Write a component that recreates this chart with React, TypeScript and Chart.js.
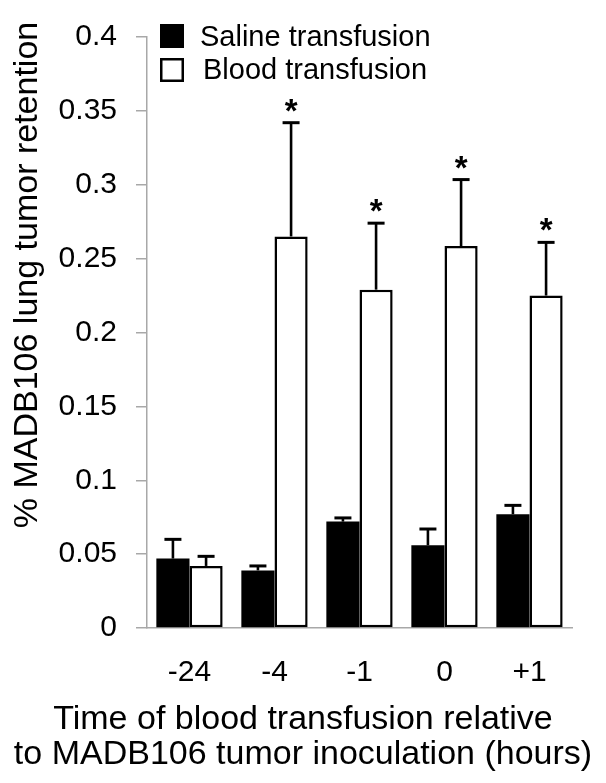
import React, { useEffect, useRef } from 'react';
import { Chart, registerables } from 'chart.js';

Chart.register(...registerables);

const categories = ['-24', '-4', '-1', '0', '+1'];
const salineValues = [0.047, 0.039, 0.072, 0.056, 0.077];
const salineErrors = [0.013, 0.003, 0.0025, 0.011, 0.006];
const bloodValues = [0.042, 0.265, 0.229, 0.2585, 0.225];
const bloodErrors = [0.0065, 0.077, 0.045, 0.045, 0.036];
const significant = [false, true, true, true, true];
const yTickLabels = ['0', '0.05', '0.1', '0.15', '0.2', '0.25', '0.3', '0.35', '0.4'];
const seriesNames = ['Saline transfusion', 'Blood transfusion'];
const yTitle = '% MADB106 lung tumor retention';
const xTitleLines = ['Time of blood transfusion relative', 'to MADB106 tumor inoculation (hours)'];

const FONT = '"Liberation Sans", Arial, Helvetica, sans-serif';

const errorPlugin = {
  id: 'errorBars',
  afterDatasetsDraw(chart: any) {
    const ctx = chart.ctx;
    const y = chart.scales.y;
    const errs = [salineErrors, bloodErrors];
    errs.forEach((list, di) => {
      const meta = chart.getDatasetMeta(di);
      meta.data.forEach((bar: any, i: number) => {
        const v = chart.data.datasets[di].data[i] as number;
        const top = y.getPixelForValue(v + list[i]);
        const x = bar.x;
        ctx.save();
        ctx.strokeStyle = '#000';
        ctx.lineWidth = 2.6;
        ctx.beginPath();
        ctx.moveTo(x, bar.y);
        ctx.lineTo(x, top);
        ctx.stroke();
        ctx.lineWidth = 3;
        ctx.beginPath();
        ctx.moveTo(x - 8.5, top);
        ctx.lineTo(x + 8.5, top);
        ctx.stroke();
        if (di === 1 && significant[i]) {
          ctx.fillStyle = '#000';
          ctx.font = `bold 33px ${FONT}`;
          ctx.textAlign = 'center';
          ctx.textBaseline = 'alphabetic';
          ctx.fillText('*', x, top - 1);
        }
        ctx.restore();
      });
    });
  },
};

const decorPlugin = {
  id: 'decor',
  afterDraw(chart: any) {
    const ctx = chart.ctx;
    const area = chart.chartArea;
    ctx.save();
    // legend
    const lx = area.left + 13;
    const sq = 24;
    const rows = [area.top - 13, area.top + 21];
    ctx.fillStyle = '#000';
    ctx.fillRect(lx, rows[0], sq, sq);
    ctx.fillRect(lx, rows[1], sq, sq);
    ctx.fillStyle = '#fff';
    ctx.fillRect(lx + 2.5, rows[1] + 2.5, sq - 5, sq - 5);
    ctx.fillStyle = '#000';
    ctx.font = `29px ${FONT}`;
    ctx.textAlign = 'left';
    ctx.textBaseline = 'alphabetic';
    ctx.fillText(seriesNames[0], lx + 40, rows[0] + 21.5);
    ctx.fillText(seriesNames[1], lx + 43, rows[1] + 21);
    // y title
    ctx.save();
    ctx.translate(37, 275);
    ctx.rotate(-Math.PI / 2);
    ctx.font = `34px ${FONT}`;
    ctx.textAlign = 'center';
    ctx.textBaseline = 'alphabetic';
    ctx.fillText(yTitle, 0, 0);
    ctx.restore();
    // x title
    ctx.font = `34px ${FONT}`;
    ctx.textAlign = 'center';
    ctx.textBaseline = 'alphabetic';
    ctx.fillText(xTitleLines[0], chart.width / 2, 729);
    ctx.fillText(xTitleLines[1], chart.width / 2, 764);
    ctx.restore();
  },
};

export default function App() {
  const ref = useRef<HTMLCanvasElement | null>(null);
  useEffect(() => {
    if (!ref.current) return;
    Chart.defaults.font.family = FONT;
    Chart.defaults.color = '#000';
    const chart = new Chart(ref.current, {
      type: 'bar',
      data: {
        labels: categories,
        datasets: [
          {
            label: seriesNames[0],
            data: salineValues,
            backgroundColor: '#000',
            borderColor: '#000',
            borderWidth: 0,
            categoryPercentage: 0.78,
            barPercentage: 1.0,
          },
          {
            label: seriesNames[1],
            data: bloodValues,
            backgroundColor: '#fff',
            borderColor: '#000',
            borderWidth: 2.5,
            borderSkipped: false,
            categoryPercentage: 0.78,
            barPercentage: 1.0,
          },
        ],
      },
      options: {
        responsive: false,
        animation: false,
        devicePixelRatio: 1,
        layout: { padding: { top: 31, right: 34, bottom: 0, left: 0 } },
        plugins: { legend: { display: false }, tooltip: { enabled: false } },
        scales: {
          x: {
            grid: { display: false, drawTicks: false, tickLength: 0 },
            border: { display: true, color: '#a8a8a8', width: 1.5 },
            ticks: { font: { size: 30 }, color: '#000', padding: 27, maxRotation: 0 },
            afterFit: (s: any) => { s.height = 155; },
          },
          y: {
            min: 0,
            max: 0.4,
            ticks: {
              stepSize: 0.05,
              font: { size: 30 },
              color: '#000',
              padding: 19,
              callback: (_v: any, i: number) => yTickLabels[i],
            },
            grid: { drawOnChartArea: false, drawTicks: true, tickLength: 11, color: '#a8a8a8', lineWidth: 1.5 },
            border: { display: true, color: '#a8a8a8', width: 1.5 },
            afterFit: (s: any) => { s.width = 147; },
          },
        },
      },
      plugins: [errorPlugin, decorPlugin],
    });
    return () => chart.destroy();
  }, []);
  return (
    <canvas
      ref={ref}
      width={606}
      height={783}
      style={{ position: 'absolute', left: 0, top: 0, width: 606, height: 783, display: 'block' }}
    />
  );
}
